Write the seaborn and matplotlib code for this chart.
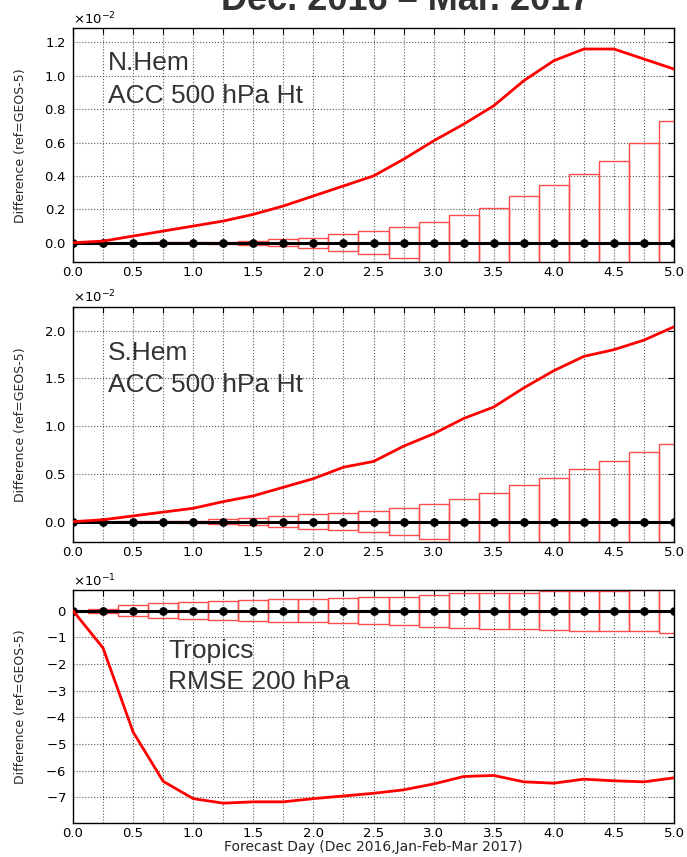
import matplotlib
matplotlib.use("Agg")
import numpy as np
import matplotlib.pyplot as plt
import seaborn as sns
from matplotlib.ticker import MultipleLocator, ScalarFormatter, FuncFormatter

# Forecast lead times (days)
days = [0.0, 0.25, 0.5, 0.75, 1.0, 1.25, 1.5, 1.75, 2.0, 2.25, 2.5,
        2.75, 3.0, 3.25, 3.5, 3.75, 4.0, 4.25, 4.5, 4.75, 5.0]

# Northern Hemisphere ACC 500 hPa height, units of 1e-2
nh_scale = 1e-2
nh_mean = [0.0, 0.01, 0.04, 0.07, 0.10, 0.13, 0.17, 0.22, 0.28, 0.34, 0.40,
           0.50, 0.61, 0.71, 0.82, 0.97, 1.09, 1.16, 1.16, 1.10, 1.04]
nh_ci = [0.0, 0.0005, 0.001, 0.002, 0.004, 0.007, 0.012, 0.02, 0.03, 0.05, 0.068,
         0.094, 0.122, 0.164, 0.21, 0.28, 0.345, 0.41, 0.49, 0.597, 0.726]

# Southern Hemisphere ACC 500 hPa height, units of 1e-2
sh_scale = 1e-2
sh_mean = [0.0, 0.02, 0.06, 0.10, 0.14, 0.21, 0.27, 0.36, 0.45, 0.57, 0.63,
           0.79, 0.92, 1.08, 1.20, 1.40, 1.58, 1.73, 1.80, 1.90, 2.04]
sh_ci = [0.0, 0.001, 0.002, 0.005, 0.012, 0.025, 0.04, 0.06, 0.077, 0.09, 0.11,
         0.14, 0.18, 0.233, 0.296, 0.379, 0.458, 0.546, 0.64, 0.733, 0.81]

# Tropics RMSE 200 hPa, units of 1e-1
tr_scale = 1e-1
tr_mean = [0.0, -1.4, -4.55, -6.4, -7.05, -7.22, -7.17, -7.17, -7.05, -6.95, -6.85,
           -6.72, -6.5, -6.22, -6.18, -6.42, -6.47, -6.32, -6.38, -6.42, -6.27]
tr_ci = [0.0, 0.08, 0.21, 0.27, 0.325, 0.356, 0.39, 0.44, 0.44, 0.48, 0.51,
         0.53, 0.6, 0.65, 0.675, 0.675, 0.725, 0.75, 0.75, 0.775, 0.85]

panels = [
    dict(mean=nh_mean, ci=nh_ci, scale=nh_scale, labels=("N.Hem", "ACC 500 hPa Ht"),
         ylim=(-0.117, 1.284), ystep=0.2, rect=(73, 28.3, 674, 262.3),
         tx=0.058, ty=(0.822, 0.682)),
    dict(mean=sh_mean, ci=sh_ci, scale=sh_scale, labels=("S.Hem", "ACC 500 hPa Ht"),
         ylim=(-0.216, 2.25), ystep=0.5, rect=(73, 306.7, 674, 542.3),
         tx=0.058, ty=(0.774, 0.638)),
    dict(mean=tr_mean, ci=tr_ci, scale=tr_scale, labels=("Tropics", "RMSE 200 hPa"),
         ylim=(-7.975, 0.776), ystep=1.0, rect=(73, 590, 674, 823.3),
         tx=0.158, ty=(0.71, 0.575)),
]

sns.set_style("white")
plt.rcParams.update({
    "font.family": ["DejaVu Sans"],
    "axes.edgecolor": "black",
    "axes.linewidth": 1.0,
    "xtick.direction": "in",
    "ytick.direction": "in",
    "xtick.top": True,
    "ytick.right": True,
    "xtick.major.size": 4,
    "ytick.major.size": 4,
    "xtick.labelsize": 9.5,
    "ytick.labelsize": 9.5,
    "xtick.color": "black",
    "ytick.color": "black",
    "text.color": "#222222",
})

W, H = 687, 857
fig = plt.figure(figsize=(W / 100, H / 100), dpi=100)

zeros = [0.0] * len(days)
box_color = (1.0, 0.3, 0.3)


def half_label(v, pos):
    if abs(v * 2 - round(v * 2)) < 1e-6:
        return f"{v:.1f}"
    return ""


for i, p in enumerate(panels):
    x0, y0, x1, y1 = p["rect"]
    ax = fig.add_axes([x0 / W, 1 - y1 / H, (x1 - x0) / W, (y1 - y0) / H])
    s = p["scale"]
    mean = [v * s for v in p["mean"]]
    ci = [v * s for v in p["ci"]]

    ax.grid(True, which="major", ls=":", color="0.35", lw=0.8, zorder=0)

    # confidence interval boxes around zero
    ax.bar(days, [2 * c for c in ci], bottom=[-c for c in ci], width=0.25,
           fill=False, edgecolor=box_color, linewidth=1.0, zorder=2)

    # reference (zero) line with markers
    sns.lineplot(x=days, y=zeros, color="black", lw=2.2, marker="o",
                 markersize=5.5, markeredgecolor="black", ax=ax, zorder=3)
    # mean difference
    sns.lineplot(x=days, y=mean, color="red", lw=2.0, ax=ax, zorder=4)

    ax.set_xlim(0, 5)
    ax.set_ylim(p["ylim"][0] * s, p["ylim"][1] * s)
    ax.xaxis.set_major_locator(MultipleLocator(0.25))
    ax.xaxis.set_major_formatter(FuncFormatter(half_label))
    ax.yaxis.set_major_locator(MultipleLocator(p["ystep"] * s))
    fmt = ScalarFormatter(useMathText=True)
    fmt.set_powerlimits((0, 0))
    ax.yaxis.set_major_formatter(fmt)
    ax.yaxis.get_offset_text().set_fontsize(9.5)
    ax.tick_params(axis="x", width=0.8, pad=2.5)
    ax.tick_params(axis="y", width=0.8, pad=5)

    ax.set_ylabel("Difference (ref=GEOS-5)", fontsize=9)
    ax.yaxis.set_label_coords(-0.076, 0.5)
    ax.set_xlabel("")

    for t, yy in zip(p["labels"], p["ty"]):
        ax.text(p["tx"], yy, t, transform=ax.transAxes, fontsize=19,
                family="Liberation Sans", color="#333333", va="baseline", ha="left",
                zorder=5)

    if i == 2:
        ax.set_xlabel("Forecast Day (Dec 2016,Jan-Feb-Mar 2017)", fontsize=10, labelpad=0)

fig.text(0.59, 1 - 10 / H, "Dec. 2016 \u2013 Mar. 2017", ha="center", va="baseline",
         fontsize=26, fontweight="bold", family="Liberation Sans", color="#333333")

fig.savefig("out.png", dpi=100)
